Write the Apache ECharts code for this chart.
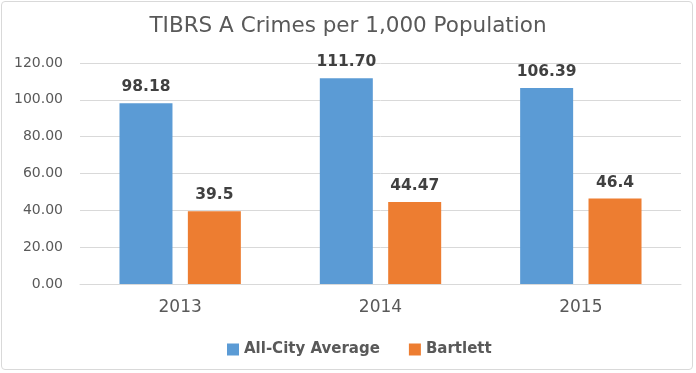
<!DOCTYPE html>
<html><head><meta charset="utf-8">
<script src="https://cdn.jsdelivr.net/npm/echarts@6/dist/echarts.min.js"></script>
<style>html,body{margin:0;padding:0;background:#fff}#c{width:696px;height:373px;box-sizing:border-box}#frame{position:absolute;left:1px;top:1px;width:692px;height:369px;border:1px solid #d9d9d9;border-radius:4px;box-sizing:border-box;pointer-events:none}</style>
</head><body>
<div id="c"></div><div id="frame"></div>
<script>
const categories = ['2013', '2014', '2015'];
const allCity = [98.18, 111.70, 106.39];
const allCityLabels = ['98.18', '111.70', '106.39'];
const bartlett = [39.5, 44.47, 46.4];
const bartlettLabels = ['39.5', '44.47', '46.4'];
const yTicks = [0, 20, 40, 60, 80, 100, 120];

const font = '"DejaVu Sans", sans-serif';
const chart = echarts.init(document.getElementById('c'), null, {renderer: 'canvas'});
chart.setOption({
  animation: false,
  title: {
    text: 'TIBRS A Crimes per 1,000 Population',
    left: 'center', top: 10,
    textStyle: {fontFamily: font, fontSize: 21.5, fontWeight: 'normal', color: '#595959'}
  },
  legend: {
    bottom: 11, left: 222,
    itemWidth: 12, itemHeight: 12, itemGap: 29,
    icon: 'rect',
    textStyle: {fontFamily: font, fontSize: 15, fontWeight: 'bold', color: '#595959'},
    data: ['All-City Average', 'Bartlett']
  },
  grid: {left: 80, right: 15, top: 63, bottom: 89},
  xAxis: {
    type: 'category', data: categories,
    axisTick: {show: false},
    axisLine: {lineStyle: {color: '#d9d9d9'}},
    axisLabel: {fontFamily: font, fontSize: 17, color: '#595959', margin: 15}
  },
  yAxis: {
    type: 'value', min: yTicks[0], max: yTicks[yTicks.length - 1], interval: 20,
    axisLine: {show: false}, axisTick: {show: false},
    splitLine: {lineStyle: {color: '#d9d9d9'}},
    axisLabel: {fontFamily: font, fontSize: 14, color: '#595959', margin: 17,
      formatter: v => v.toFixed(2)}
  },
  series: [
    {
      name: 'All-City Average', type: 'bar', data: allCity,
      barWidth: 53, barGap: '29%',
      itemStyle: {color: '#5b9bd5'},
      label: {show: true, position: 'top', distance: 8,
        formatter: p => allCityLabels[p.dataIndex],
        fontFamily: font, fontSize: 15.5, fontWeight: 'bold', color: '#404040'}
    },
    {
      name: 'Bartlett', type: 'bar', data: bartlett,
      barWidth: 53,
      itemStyle: {color: '#ed7d31'},
      label: {show: true, position: 'top', distance: 8,
        formatter: p => bartlettLabels[p.dataIndex],
        fontFamily: font, fontSize: 15.5, fontWeight: 'bold', color: '#404040'}
    }
  ]
});
</script>
</body></html>
